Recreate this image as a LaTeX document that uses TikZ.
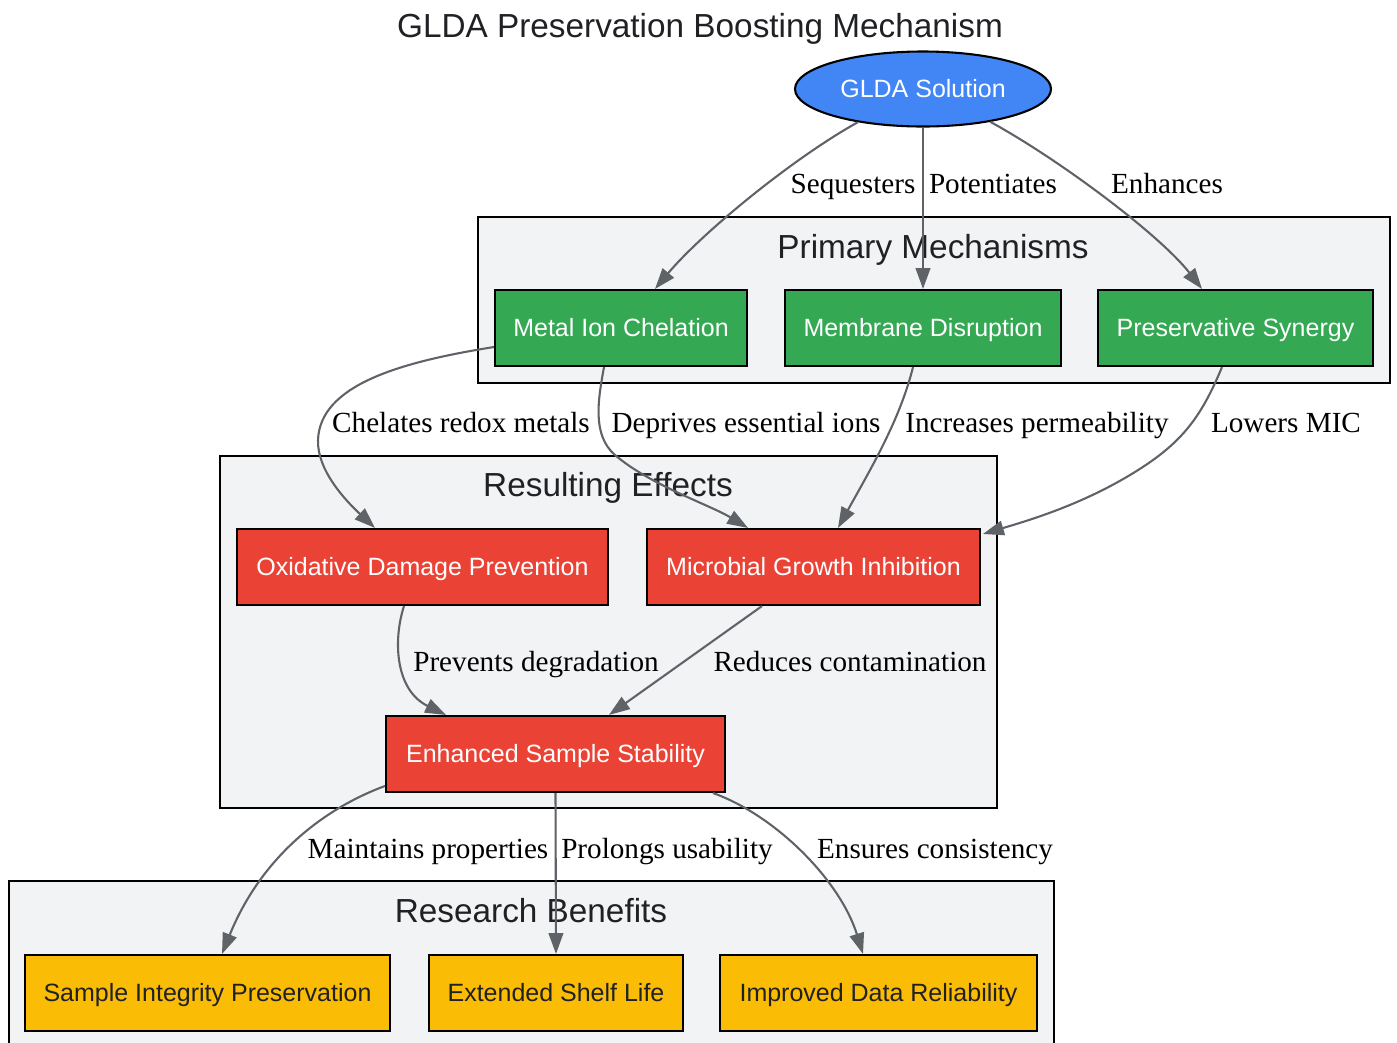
\documentclass[tikz,border=0pt]{standalone}
\usepackage{fontspec}
\setmainfont{Liberation Serif}
\setsansfont{Liberation Sans}
\usetikzlibrary{shapes.geometric,arrows.meta,calc}
\definecolor{gblue}{HTML}{4285F4}
\definecolor{ggreen}{HTML}{34A853}
\definecolor{gred}{HTML}{EA4335}
\definecolor{gyellow}{HTML}{FBBC05}
\definecolor{clfill}{HTML}{F1F3F4}
\definecolor{edgegray}{HTML}{5F6368}
\definecolor{txtdark}{HTML}{202124}
\def\pu{0.48pt}
\begin{document}
\begin{tikzpicture}[x=0.48pt,y=-0.48pt,
  nodefont/.style={font=\sffamily\fontsize{12}{14}\selectfont,text height=8.6pt,text depth=0pt},
  box/.style={draw=black,line width=1pt,rectangle,inner sep=0pt,minimum height=76*\pu,
    nodefont,text=white},
  greenbox/.style={box,fill=ggreen},
  redbox/.style={box,fill=gred},
  yellowbox/.style={box,fill=gyellow,text=txtdark},
  cluster/.style={draw=black,line width=1pt,fill=clfill},
  cltitle/.style={inner sep=0pt,font=\sffamily\fontsize{16}{19}\selectfont,text=txtdark,
    text height=11.45pt,text depth=0pt},
  elabel/.style={inner sep=0pt,font=\rmfamily\fontsize{14}{16}\selectfont,text=black,
    text height=9.27pt,text depth=0pt},
  edge/.style={draw=edgegray,line width=1pt,-{Triangle[length=10pt,width=7pt]}}
]
\useasboundingbox (0,0) rectangle (1397,1042);
\fill[white] (0,0) rectangle (1397,1042);

% title
\node[cltitle] (title) at (700,25.5) {GLDA Preservation Boosting Mechanism};

% clusters
\draw[cluster] (478,217) rectangle (1390,383);
\node[cltitle] (cl1) at (933,246.7) {Primary Mechanisms};
\draw[cluster] (220,456) rectangle (997,808);
\node[cltitle] (cl2) at (608,484.7) {Resulting Effects};
\draw[cluster] (9,881) rectangle (1054,1070);
\node[cltitle] (cl3) at (531,910.5) {Research Benefits};

% nodes
\node[ellipse,draw=black,line width=1pt,fill=gblue,inner sep=0pt,minimum width=256*\pu,minimum height=75*\pu,
  nodefont,text=white] (glda) at (923,89) {GLDA Solution};

\node[greenbox,minimum width=252*\pu] (metal) at (621,328) {Metal Ion Chelation};
\node[greenbox,minimum width=276*\pu] (memb) at (923,328) {Membrane Disruption};
\node[greenbox,minimum width=275*\pu] (pres) at (1235.5,328) {Preservative Synergy};

\node[redbox,minimum width=371*\pu] (oxid) at (422.5,567) {Oxidative Damage Prevention};
\node[redbox,minimum width=333*\pu] (micro) at (813.5,567) {Microbial Growth Inhibition};
\node[redbox,minimum width=339*\pu] (enh) at (555.5,754) {Enhanced Sample Stability};

\node[yellowbox,minimum width=365*\pu] (integ) at (207.5,993) {Sample Integrity Preservation};
\node[yellowbox,minimum width=254*\pu] (shelf) at (556,993) {Extended Shelf Life};
\node[yellowbox,minimum width=317*\pu] (reli) at (878.5,993) {Improved Data Reliability};

% edges
\draw[edge] (glda.207) .. controls (790,160) and (700,235) .. ($(metal.north)+(34,0)$);
\draw[edge] (glda.south) -- (memb.north);
\draw[edge] (glda.334) .. controls (1060,160) and (1160,235) .. ($(pres.north)+(-33.5,0)$);

\draw[edge] ($(metal.west)+(0,19)$) .. controls (400,362) and (320,385) .. (318,440)
   .. controls (317,470) and (345,500) .. ($(oxid.north)+(-47.5,0)$);
\draw[edge] ($(metal.south)+(-17,0)$) .. controls (598,400) and (592,435) .. (615,455)
   .. controls (650,485) and (710,505) .. ($(micro.north)+(-65.5,0)$);
\draw[edge] ($(memb.south)+(-10,0)$) .. controls (900,420) and (870,470) .. ($(micro.north)+(24.5,0)$);
\draw[edge] ($(pres.south)+(-13.5,0)$) .. controls (1200,420) and (1180,445) .. (1130,475)
   .. controls (1080,505) and (1030,520) .. ($(micro.north east)+(2,6)$);

\draw[edge] ($(oxid.south)+(-18.5,0)$) .. controls (393,640) and (395,690) .. ($(enh.north)+(-109.5,0)$);
\draw[edge] ($(micro.south)+(-51.5,0)$) -- ($(enh.north)+(53.5,0)$);

\draw[edge] ($(enh.west)+(0,32)$) .. controls (320,810) and (260,860) .. ($(integ.north)+(14.5,0)$);
\draw[edge] (enh.south) -- (shelf.north);
\draw[edge] ($(enh.south)+(157.5,0)$) .. controls (775,815) and (840,880) .. ($(reli.north)+(-15.5,0)$);

% edge labels
\node[elabel] (l1) at (853,183.5) {Sequesters};
\node[elabel] (l2) at (993,183.5) {Potentiates};
\node[elabel] (l3) at (1167,183.5) {Enhances};
\node[elabel] (l4) at (461,422.5) {Chelates redox metals};
\node[elabel] (l5) at (746,422.5) {Deprives essential ions};
\node[elabel] (l6) at (1037,422.5) {Increases permeability};
\node[elabel] (l7) at (1286,422.5) {Lowers MIC};
\node[elabel] (l8) at (536,661.7) {Prevents degradation};
\node[elabel] (l9) at (850,661.7) {Reduces contamination};
\node[elabel] (l10) at (428,848.5) {Maintains properties};
\node[elabel] (l11) at (667,848.5) {Prolongs usability};
\node[elabel] (l12) at (935,848.5) {Ensures consistency};
\end{tikzpicture}
\end{document}
